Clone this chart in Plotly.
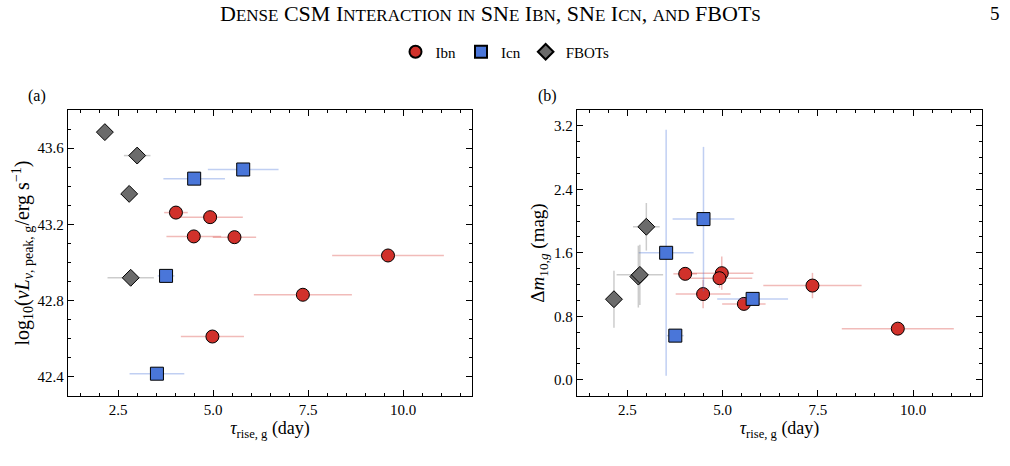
import plotly.graph_objects as go

# ---- data ----
ibn_tau = [4.98, 4.02, 4.92, 4.49, 5.56, 9.60, 7.36]
ibn_tau_err = [0.83, 0.31, 0.86, 0.72, 0.57, 1.47, 1.29]
ibn_logL = [42.612, 43.262, 43.238, 43.137, 43.133, 43.037, 42.831]
ibn_dm = [1.343, 1.335, 1.280, 1.080, 0.956, 0.644, 1.187]
ibn_dm_err = [0.21, 0.0, 0.12, 0.18, 0.0, 0.0, 0.16]

icn_tau = [5.79, 4.50, 3.76, 3.52]
icn_tau_err = [0.93, 0.81, 0.22, 0.72]
icn_logL = [43.488, 43.440, 42.930, 42.417]
icn_dm = [1.019, 2.025, 0.556, 1.600]
icn_dm_err = [0.0, 0.91, 0.0, 1.55]

fbot_tau = [2.15, 3.00, 2.79, 2.83]
fbot_tau_err = [0.0, 0.35, 0.0, 0.61]
fbot_logL = [43.684, 43.561, 43.360, 42.920]
fbot_dm = [1.015, 1.928, 1.300, 1.322]
fbot_dm_err = [0.36, 0.30, 0.39, 0.38]

FONT = "Liberation Serif"
groups = [
    ("Ibn", ibn_tau, ibn_tau_err, ibn_logL, ibn_dm, ibn_dm_err, "circle", "#d1312b", "rgba(214,60,55,0.35)", 13),
    ("Icn", icn_tau, icn_tau_err, icn_logL, icn_dm, icn_dm_err, "square", "#4a76d9", "rgba(74,118,217,0.35)", 13),
    ("FBOTs", fbot_tau, fbot_tau_err, fbot_logL, fbot_dm, fbot_dm_err, "diamond", "#6b6b6b", "rgba(110,110,110,0.35)", 13),
]

fig = go.Figure()
for name, tau, tau_err, logL, dm, dm_err, sym, col, ecol, sz in groups:
    marker = dict(symbol=sym, size=sz, color=col, line=dict(color="black", width=1))
    fig.add_trace(go.Scatter(
        x=tau, y=logL, mode="markers", name=name, marker=marker,
        error_x=dict(type="data", array=tau_err, color=ecol, thickness=1.5, width=0),
        xaxis="x", yaxis="y", showlegend=True, legendgroup=name))
    fig.add_trace(go.Scatter(
        x=tau, y=dm, mode="markers", name=name, marker=marker,
        error_x=dict(type="data", array=tau_err, color=ecol, thickness=1.5, width=0),
        error_y=dict(type="data", array=dm_err, color=ecol, thickness=1.5, width=0),
        xaxis="x2", yaxis="y2", showlegend=False, legendgroup=name))

def smallcaps(text, small=16):
    out = []
    for ch in text:
        if ch.islower():
            out.append(f'<span style="font-size:{small}px">{ch.upper()}</span>')
        else:
            out.append(ch)
    return "".join(out)

title_text = smallcaps("Dense CSM Interaction in SNe Ibn, SNe Icn, and FBOTs", small=17)

axis_common = dict(
    showline=True, linecolor="black", linewidth=1.3, mirror="allticks",
    ticks="inside", ticklen=6, tickwidth=1.2, tickcolor="black",
    showgrid=False, zeroline=False,
    tickfont=dict(family=FONT, size=15, color="black"),
)

x_ticks = [2.5, 5.0, 7.5, 10.0]
xaxis_cfg = dict(axis_common, range=[1.18, 11.81], tickvals=x_ticks,
                 ticktext=[f"{v:.1f}" for v in x_ticks],
                 minor=dict(dtick=0.5, tick0=0, ticks="inside", ticklen=3, tickcolor="black", tickwidth=1),
                 title=dict(text="<i>τ</i><sub>rise, g</sub> (day)", font=dict(family=FONT, size=18, color="black"), standoff=4))

ya_ticks = [42.4, 42.8, 43.2, 43.6]
yb_ticks = [0.0, 0.8, 1.6, 2.4, 3.2]

fig.update_layout(
    width=1010, height=466, margin=dict(l=0, r=0, t=0, b=0),
    paper_bgcolor="white", plot_bgcolor="white",
    font=dict(family=FONT, size=14, color="black"),
    xaxis=dict(xaxis_cfg, domain=[68/1010, 472/1010], anchor="y"),
    xaxis2=dict(xaxis_cfg, domain=[577/1010, 982/1010], anchor="y2"),
    yaxis=dict(axis_common, domain=[70/466, 356/466], anchor="x", range=[42.30, 43.80],
               tickvals=ya_ticks, ticktext=[f"{v:.1f}" for v in ya_ticks],
               minor=dict(dtick=0.1, tick0=0, ticks="inside", ticklen=3, tickcolor="black", tickwidth=1),
               title=dict(text="log<sub>10</sub>(<i>νL</i><sub><i>ν</i>, peak, g</sub>/erg s<sup>−1</sup>)",
                          font=dict(family=FONT, size=20, color="black"), standoff=2)),
    yaxis2=dict(axis_common, domain=[70/466, 356/466], anchor="x2", range=[-0.205, 3.40],
                tickvals=yb_ticks, ticktext=[f"{v:.1f}" for v in yb_ticks],
                minor=dict(dtick=0.2, tick0=0, ticks="inside", ticklen=3, tickcolor="black", tickwidth=1),
                title=dict(text="Δ<i>m</i><sub>10,<i>g</i></sub> (mag)",
                           font=dict(family=FONT, size=19, color="black"), standoff=4)),
    legend=dict(orientation="h", x=0.50, xanchor="center", y=1 - 52/466, yanchor="middle",
                font=dict(family=FONT, size=15, color="black"), bgcolor="rgba(0,0,0,0)",
                itemsizing="constant", tracegroupgap=0, itemwidth=30),
    annotations=[
        dict(text=title_text, x=490/1010, y=1 - 13/466, xref="paper", yref="paper",
             showarrow=False, xanchor="center", yanchor="middle",
             font=dict(family=FONT, size=22, color="black")),
        dict(text="5", x=995/1010, y=1 - 13/466, xref="paper", yref="paper",
             showarrow=False, xanchor="center", yanchor="middle",
             font=dict(family=FONT, size=19, color="black")),
        dict(text="(a)", x=37/1010, y=1 - 96/466, xref="paper", yref="paper",
             showarrow=False, xanchor="center", yanchor="middle",
             font=dict(family=FONT, size=16, color="black")),
        dict(text="(b)", x=547/1010, y=1 - 96/466, xref="paper", yref="paper",
             showarrow=False, xanchor="center", yanchor="middle",
             font=dict(family=FONT, size=16, color="black")),
    ],
)

fig.write_html("out.html")
